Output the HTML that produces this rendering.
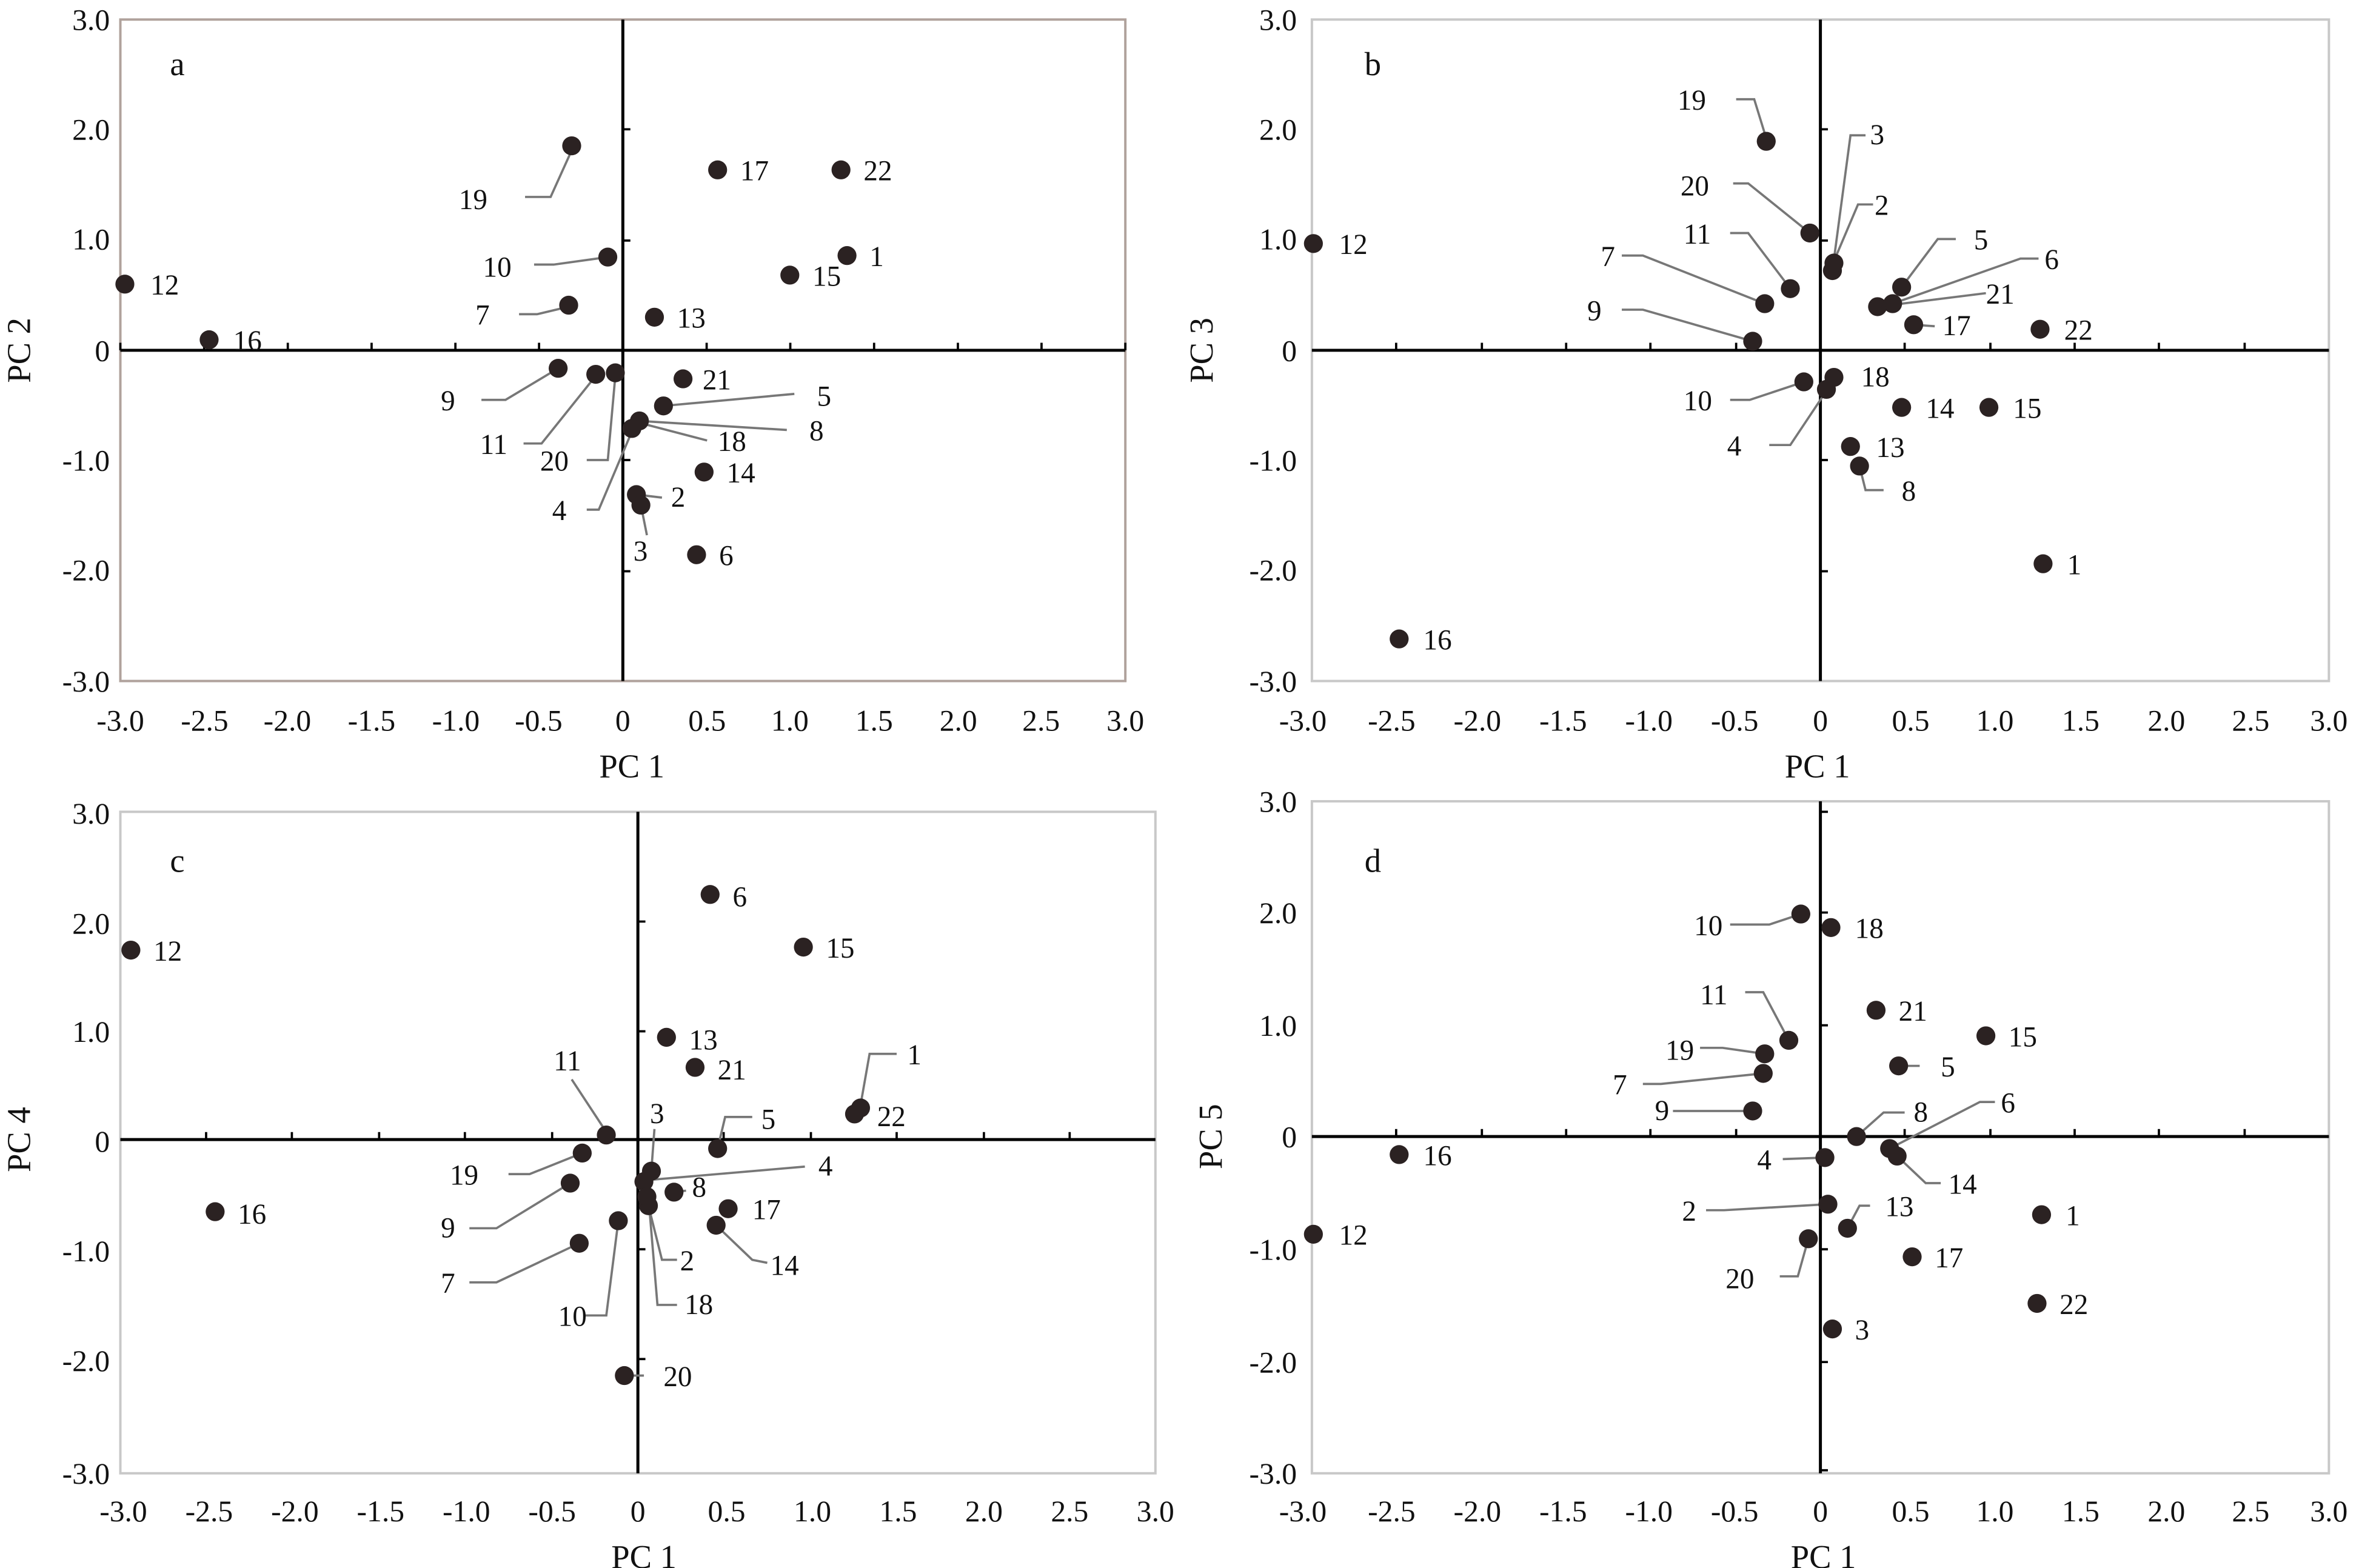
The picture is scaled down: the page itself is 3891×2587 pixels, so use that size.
<!DOCTYPE html>
<html><head><meta charset="utf-8"><style>html,body{margin:0;padding:0;background:#fff}svg{display:block}</style></head>
<body>
<svg xmlns="http://www.w3.org/2000/svg" width="3891" height="2587" viewBox="0 0 1568 1043" preserveAspectRatio="none" font-family="Liberation Serif, serif">
<rect width="1568" height="1043" fill="#fff"/>
<!-- frames -->
<rect x="80" y="13" width="668" height="440" fill="none" stroke="#b0a29c" stroke-width="1.6"/>
<rect x="872" y="13" width="676" height="440" fill="none" stroke="#c8c8c8" stroke-width="1.6"/>
<rect x="80" y="540" width="688" height="440" fill="none" stroke="#c8c8c8" stroke-width="1.6"/>
<rect x="872" y="533" width="676" height="447" fill="none" stroke="#c8c8c8" stroke-width="1.6"/>
<!-- axes -->
<g stroke="#000" stroke-width="2">
<line x1="80" y1="233" x2="748" y2="233"/><line x1="414" y1="13" x2="414" y2="453"/>
<line x1="872" y1="233" x2="1548" y2="233"/><line x1="1210" y1="13" x2="1210" y2="453"/>
<line x1="80" y1="758" x2="768" y2="758"/><line x1="424" y1="540" x2="424" y2="980"/>
<line x1="872" y1="756" x2="1548" y2="756"/><line x1="1210" y1="533" x2="1210" y2="980"/>
</g>
<g stroke="#000" stroke-width="1.5">
<path d="M80 233v-5M135.7 233v-5M191.3 233v-5M247 233v-5M302.7 233v-5M358.3 233v-5M469.7 233v-5M525.3 233v-5M581 233v-5M636.7 233v-5M692.3 233v-5M748 233v-5"/>
<path d="M414 86v0M414 86h5M414 160h5M414 306h5M414 380h5"/>
<path d="M928 233v-5M985 233v-5M1041 233v-5M1097 233v-5M1154 233v-5M1266 233v-5M1323 233v-5M1379 233v-5M1435 233v-5M1492 233v-5"/>
<path d="M1210 86h5M1210 160h5M1210 306h5M1210 380h5"/>
<path d="M137 758v-5M194 758v-5M252 758v-5M309 758v-5M367 758v-5M481 758v-5M539 758v-5M596 758v-5M654 758v-5M711 758v-5"/>
<path d="M424 613h5M424 686h5M424 831h5M424 904h5"/>
<path d="M928 756v-5M985 756v-5M1041 756v-5M1097 756v-5M1154 756v-5M1266 756v-5M1323 756v-5M1379 756v-5M1435 756v-5M1492 756v-5"/>
<path d="M1210 540h5M1210 607h5M1210 682h5M1210 831h5M1210 906h5M1210 978h5"/>
</g>
<!-- tick labels -->
<g font-size="20" text-anchor="end" fill="#111">
<text x="73" y="20">3.0</text><text x="73" y="93">2.0</text><text x="73" y="166">1.0</text><text x="73" y="240">0</text><text x="73" y="313">-1.0</text><text x="73" y="386">-2.0</text><text x="73" y="460">-3.0</text>
<text x="862" y="20">3.0</text><text x="862" y="93">2.0</text><text x="862" y="166">1.0</text><text x="862" y="240">0</text><text x="862" y="313">-1.0</text><text x="862" y="386">-2.0</text><text x="862" y="460">-3.0</text>
<text x="73" y="548">3.0</text><text x="73" y="621">2.0</text><text x="73" y="693">1.0</text><text x="73" y="766">0</text><text x="73" y="839">-1.0</text><text x="73" y="912">-2.0</text><text x="73" y="987">-3.0</text>
<text x="862" y="540">3.0</text><text x="862" y="614">2.0</text><text x="862" y="689">1.0</text><text x="862" y="763">0</text><text x="862" y="838">-1.0</text><text x="862" y="913">-2.0</text><text x="862" y="987">-3.0</text>
</g>
<g font-size="20" text-anchor="middle" fill="#111">
<text x="80" y="486">-3.0</text><text x="136" y="486">-2.5</text><text x="191" y="486">-2.0</text><text x="247" y="486">-1.5</text><text x="303" y="486">-1.0</text><text x="358" y="486">-0.5</text><text x="414" y="486">0</text><text x="470" y="486">0.5</text><text x="525" y="486">1.0</text><text x="581" y="486">1.5</text><text x="637" y="486">2.0</text><text x="692" y="486">2.5</text><text x="748" y="486">3.0</text>
<text x="866" y="486">-3.0</text><text x="925" y="486">-2.5</text><text x="982" y="486">-2.0</text><text x="1039" y="486">-1.5</text><text x="1096" y="486">-1.0</text><text x="1153" y="486">-0.5</text><text x="1210" y="486">0</text><text x="1270" y="486">0.5</text><text x="1326" y="486">1.0</text><text x="1383" y="486">1.5</text><text x="1440" y="486">2.0</text><text x="1496" y="486">2.5</text><text x="1548" y="486">3.0</text>
<text x="82" y="1012">-3.0</text><text x="139" y="1012">-2.5</text><text x="196" y="1012">-2.0</text><text x="253" y="1012">-1.5</text><text x="310" y="1012">-1.0</text><text x="367" y="1012">-0.5</text><text x="424" y="1012">0</text><text x="483" y="1012">0.5</text><text x="540" y="1012">1.0</text><text x="597" y="1012">1.5</text><text x="654" y="1012">2.0</text><text x="711" y="1012">2.5</text><text x="768" y="1012">3.0</text>
<text x="866" y="1012">-3.0</text><text x="925" y="1012">-2.5</text><text x="982" y="1012">-2.0</text><text x="1039" y="1012">-1.5</text><text x="1096" y="1012">-1.0</text><text x="1153" y="1012">-0.5</text><text x="1210" y="1012">0</text><text x="1270" y="1012">0.5</text><text x="1326" y="1012">1.0</text><text x="1383" y="1012">1.5</text><text x="1440" y="1012">2.0</text><text x="1496" y="1012">2.5</text><text x="1548" y="1012">3.0</text>
</g>
<!-- axis titles -->
<g font-size="22" fill="#111" text-anchor="middle">
<text x="420" y="517">PC 1</text><text x="1208" y="517">PC 1</text><text x="428" y="1043">PC 1</text><text x="1212" y="1043">PC 1</text>
<text transform="translate(20,233) rotate(-90)">PC 2</text>
<text transform="translate(806,233) rotate(-90)">PC 3</text>
<text transform="translate(20,758) rotate(-90)">PC 4</text>
<text transform="translate(812,756) rotate(-90)">PC 5</text>
</g>
<g font-size="22" fill="#111">
<text x="113" y="50">a</text><text x="907" y="50">b</text><text x="113" y="580">c</text><text x="907" y="580">d</text>
</g>
<!-- leader lines -->
<g stroke="#777" stroke-width="1.5" fill="none">
<polyline points="349,131 366,131 380,100"/><polyline points="355,176 368,176 404,171"/><polyline points="345,209 357,209 378,204"/>
<polyline points="320,266 336,266 371,245"/><polyline points="348,295 360,295 396,250"/><polyline points="390,306 404,306 409,250"/>
<polyline points="441,270 528,262"/><polyline points="425,280 523,286"/><polyline points="424,281 470,293"/>
<polyline points="390,339 398,339 420,287"/><polyline points="423,329 440,331"/><polyline points="426,336 430,356"/>
<polyline points="1154,66 1166,66 1174,92"/><polyline points="1240,90 1230,90 1218,180"/><polyline points="1152,122 1162,122 1203,155"/>
<polyline points="1245,136 1235,136 1218,176"/><polyline points="1150,155 1162,155 1190,192"/><polyline points="1078,170 1092,170 1173,202"/>
<polyline points="1078,206 1092,206 1165,227"/><polyline points="1300,159 1288,159 1264,191"/><polyline points="1355,172 1343,172 1258,202"/>
<polyline points="1320,195 1248,204"/><polyline points="1272,216 1286,217"/><polyline points="1150,266 1163,266 1199,254"/>
<polyline points="1176,296 1190,296 1214,260"/><polyline points="1236,310 1240,326 1252,326"/>
<polyline points="596,701 578,701 572,735"/><polyline points="500,743 482,743 477,764"/><polyline points="380,718 403,753"/>
<polyline points="435,751 433,778"/><polyline points="338,781 352,781 387,767"/><polyline points="312,817 330,817 379,787"/>
<polyline points="430,785 535,776"/><polyline points="448,793 456,792"/><polyline points="476,815 500,838 510,840"/>
<polyline points="312,853 330,853 385,827"/><polyline points="389,875 403,875 411,812"/><polyline points="431,802 440,838 450,838"/>
<polyline points="431,796 437,868 450,868"/><polyline points="415,915 428,915"/>
<polyline points="1150,615 1176,615 1197,608"/><polyline points="1160,660 1172,660 1189,692"/><polyline points="1130,697 1145,697 1173,701"/>
<polyline points="1092,721 1104,721 1172,714"/><polyline points="1112,739 1165,739"/><polyline points="1266,740 1252,740 1234,756"/>
<polyline points="1326,733 1316,733 1256,764"/><polyline points="1261,769 1280,787 1290,787"/><polyline points="1185,771 1213,770"/>
<polyline points="1134,805 1146,805 1215,801"/><polyline points="1243,802 1236,802 1228,817"/><polyline points="1183,849 1195,849 1202,824"/>
<polyline points="1262,709 1276,709"/>
</g>
<!-- points -->
<g fill="#2b2222">
<circle cx="83" cy="189" r="6.3"/><circle cx="139" cy="226" r="6.3"/><circle cx="380" cy="97" r="6.3"/><circle cx="404" cy="171" r="6.3"/><circle cx="378" cy="203" r="6.3"/><circle cx="477" cy="113" r="6.3"/><circle cx="559" cy="113" r="6.3"/><circle cx="563" cy="170" r="6.3"/><circle cx="525" cy="183" r="6.3"/><circle cx="435" cy="211" r="6.3"/><circle cx="371" cy="245" r="6.3"/><circle cx="396" cy="249" r="6.3"/><circle cx="409" cy="248" r="6.3"/><circle cx="454" cy="252" r="6.3"/><circle cx="441" cy="270" r="6.3"/><circle cx="425" cy="280" r="6.3"/><circle cx="420" cy="285" r="6.3"/><circle cx="468" cy="314" r="6.3"/><circle cx="423" cy="329" r="6.3"/><circle cx="426" cy="336" r="6.3"/><circle cx="463" cy="369" r="6.3"/>
<circle cx="873" cy="162" r="6.3"/><circle cx="930" cy="425" r="6.3"/><circle cx="1174" cy="94" r="6.3"/><circle cx="1218" cy="180" r="6.3"/><circle cx="1203" cy="155" r="6.3"/><circle cx="1219" cy="175" r="6.3"/><circle cx="1190" cy="192" r="6.3"/><circle cx="1173" cy="202" r="6.3"/><circle cx="1165" cy="227" r="6.3"/><circle cx="1264" cy="191" r="6.3"/><circle cx="1258" cy="202" r="6.3"/><circle cx="1248" cy="204" r="6.3"/><circle cx="1272" cy="216" r="6.3"/><circle cx="1356" cy="219" r="6.3"/><circle cx="1219" cy="251" r="6.3"/><circle cx="1199" cy="254" r="6.3"/><circle cx="1214" cy="259" r="6.3"/><circle cx="1264" cy="271" r="6.3"/><circle cx="1322" cy="271" r="6.3"/><circle cx="1230" cy="297" r="6.3"/><circle cx="1236" cy="310" r="6.3"/><circle cx="1358" cy="375" r="6.3"/>
<circle cx="87" cy="632" r="6.3"/><circle cx="143" cy="806" r="6.3"/><circle cx="472" cy="595" r="6.3"/><circle cx="534" cy="630" r="6.3"/><circle cx="443" cy="690" r="6.3"/><circle cx="462" cy="710" r="6.3"/><circle cx="572" cy="737" r="6.3"/><circle cx="568" cy="741" r="6.3"/><circle cx="477" cy="764" r="6.3"/><circle cx="403" cy="755" r="6.3"/><circle cx="433" cy="779" r="6.3"/><circle cx="387" cy="767" r="6.3"/><circle cx="379" cy="787" r="6.3"/><circle cx="428" cy="786" r="6.3"/><circle cx="448" cy="793" r="6.3"/><circle cx="484" cy="804" r="6.3"/><circle cx="476" cy="815" r="6.3"/><circle cx="385" cy="827" r="6.3"/><circle cx="411" cy="812" r="6.3"/><circle cx="431" cy="802" r="6.3"/><circle cx="430" cy="796" r="6.3"/><circle cx="415" cy="915" r="6.3"/>
<circle cx="1197" cy="608" r="6.3"/><circle cx="1217" cy="617" r="6.3"/><circle cx="1247" cy="672" r="6.3"/><circle cx="1189" cy="692" r="6.3"/><circle cx="1320" cy="689" r="6.3"/><circle cx="1173" cy="701" r="6.3"/><circle cx="1172" cy="714" r="6.3"/><circle cx="1262" cy="709" r="6.3"/><circle cx="1165" cy="739" r="6.3"/><circle cx="1234" cy="756" r="6.3"/><circle cx="1256" cy="764" r="6.3"/><circle cx="1261" cy="769" r="6.3"/><circle cx="930" cy="768" r="6.3"/><circle cx="1213" cy="770" r="6.3"/><circle cx="1357" cy="808" r="6.3"/><circle cx="873" cy="821" r="6.3"/><circle cx="1215" cy="801" r="6.3"/><circle cx="1228" cy="817" r="6.3"/><circle cx="1271" cy="836" r="6.3"/><circle cx="1202" cy="824" r="6.3"/><circle cx="1354" cy="867" r="6.3"/><circle cx="1218" cy="884" r="6.3"/>
</g>
<!-- point labels -->
<g font-size="19" fill="#111">
<text x="100" y="196">12</text><text x="155" y="233">16</text><text x="305" y="139">19</text><text x="321" y="184">10</text><text x="316" y="216">7</text><text x="492" y="120">17</text><text x="574" y="120">22</text><text x="578" y="177">1</text><text x="540" y="190">15</text><text x="450" y="218">13</text><text x="293" y="273">9</text><text x="319" y="302">11</text><text x="359" y="313">20</text><text x="467" y="259">21</text><text x="543" y="270">5</text><text x="538" y="293">8</text><text x="477" y="300">18</text><text x="367" y="346">4</text><text x="483" y="321">14</text><text x="446" y="337">2</text><text x="421" y="373">3</text><text x="478" y="376">6</text>
<text x="890" y="169">12</text><text x="946" y="432">16</text><text x="1115" y="73">19</text><text x="1243" y="96">3</text><text x="1117" y="130">20</text><text x="1246" y="143">2</text><text x="1119" y="162">11</text><text x="1064" y="177">7</text><text x="1055" y="213">9</text><text x="1312" y="166">5</text><text x="1359" y="179">6</text><text x="1320" y="202">21</text><text x="1291" y="223">17</text><text x="1372" y="226">22</text><text x="1237" y="257">18</text><text x="1119" y="273">10</text><text x="1148" y="303">4</text><text x="1280" y="278">14</text><text x="1338" y="278">15</text><text x="1247" y="304">13</text><text x="1264" y="333">8</text><text x="1374" y="382">1</text>
<text x="102" y="639">12</text><text x="158" y="814">16</text><text x="487" y="603">6</text><text x="549" y="637">15</text><text x="458" y="698">13</text><text x="477" y="718">21</text><text x="603" y="708">1</text><text x="583" y="749">22</text><text x="506" y="751">5</text><text x="368" y="712">11</text><text x="432" y="747">3</text><text x="299" y="788">19</text><text x="293" y="823">9</text><text x="544" y="782">4</text><text x="460" y="796">8</text><text x="500" y="811">17</text><text x="512" y="848">14</text><text x="293" y="860">7</text><text x="371" y="882">10</text><text x="452" y="845">2</text><text x="455" y="874">18</text><text x="441" y="922">20</text>
<text x="1126" y="622">10</text><text x="1233" y="624">18</text><text x="1262" y="679">21</text><text x="1130" y="668">11</text><text x="1335" y="696">15</text><text x="1107" y="705">19</text><text x="1072" y="728">7</text><text x="1290" y="716">5</text><text x="1100" y="745">9</text><text x="1272" y="746">8</text><text x="1330" y="740">6</text><text x="1295" y="794">14</text><text x="946" y="775">16</text><text x="1168" y="778">4</text><text x="1373" y="815">1</text><text x="890" y="828">12</text><text x="1118" y="812">2</text><text x="1253" y="809">13</text><text x="1286" y="843">17</text><text x="1147" y="857">20</text><text x="1369" y="874">22</text><text x="1233" y="891">3</text>
</g>
</svg>
</body></html>
